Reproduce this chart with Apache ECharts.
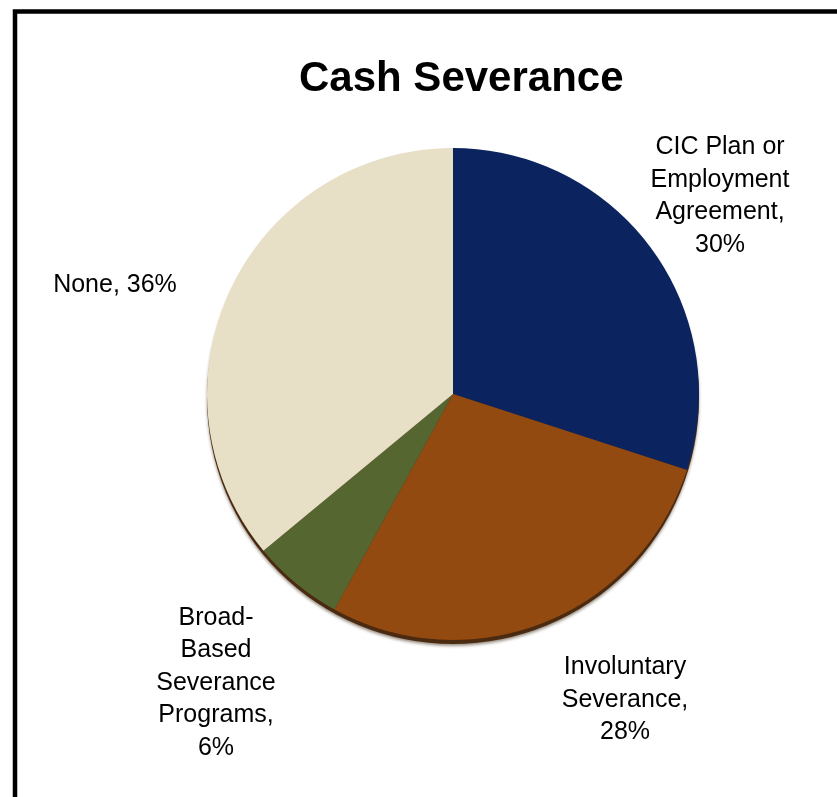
<!DOCTYPE html>
<html>
<head>
<meta charset="utf-8">
<script src="https://cdn.jsdelivr.net/npm/echarts@6/dist/echarts.min.js"></script>
<style>
  html, body { margin: 0; padding: 0; background: #fff; }
  #chart { width: 837px; height: 797px; }
</style>
</head>
<body>
<div id="chart"></div>
<script>
// Cash severance arrangements, share of companies (%)
const categories = [
  'CIC Plan or\nEmployment\nAgreement',
  'Involuntary\nSeverance',
  'Broad-\nBased\nSeverance\nPrograms',
  'None'
];
const shares = [30, 28, 6, 36];
const sliceColors = ['#0b245f', '#934a10', '#566630', '#e8dfc7'];

// Where each slice's label block is centred
const labelCenters = [[720, 196], [625, 700], [216, 683], [115, 285]];
// Single-line labels put the value after a comma on the same line
const inlineValue = [false, false, false, true];

const pieCenter = [453, 394];
const pieRadius = 246;

const chart = echarts.init(document.getElementById('chart'));

chart.setOption({
  animation: false,
  backgroundColor: '#ffffff',
  title: {
    text: 'Cash Severance',
    left: 294,
    top: 53,
    textStyle: {
      fontFamily: 'Liberation Sans, Arial, sans-serif',
      fontSize: 42,
      fontWeight: 'bold',
      color: '#000'
    }
  },
  graphic: [{
    type: 'rect',
    shape: { x: 15, y: 11.5, width: 840, height: 800 },
    style: { fill: 'none', stroke: '#000', lineWidth: 4.5 },
    silent: true,
    z: 100
  }],
  series: [
    {
      // soft drop shadow under the whole disc
      type: 'pie',
      silent: true,
      center: [pieCenter[0], pieCenter[1] + 4],
      radius: pieRadius,
      z: 1,
      label: { show: false },
      labelLine: { show: false },
      itemStyle: {
        color: '#4a2a10',
        borderWidth: 0,
        shadowColor: 'rgba(60, 40, 20, 0.5)',
        shadowBlur: 3,
        shadowOffsetY: 2
      },
      data: [{ value: 1, name: '' }]
    },
    {
      type: 'pie',
      center: pieCenter,
      radius: pieRadius,
      startAngle: 90,
      clockwise: true,
      z: 2,
      itemStyle: { borderWidth: 0 },
      data: categories.map((name, i) => ({
        name: name,
        value: shares[i],
        itemStyle: { color: sliceColors[i] }
      })),
      label: {
        show: true,
        position: 'outside',
        formatter: p => p.name + ',' + (inlineValue[p.dataIndex] ? ' ' : '\n') + p.value + '%',
        fontFamily: 'Liberation Sans, Arial, sans-serif',
        fontSize: 25,
        lineHeight: 32.5,
        color: '#000',
        align: 'center',
        overflow: 'none'
      },
      labelLine: { show: false },
      labelLayout: params => ({
        x: labelCenters[params.dataIndex][0],
        y: labelCenters[params.dataIndex][1],
        align: 'center',
        verticalAlign: 'middle',
        hideOverlap: false
      })
    }
  ]
});
</script>
</body>
</html>
